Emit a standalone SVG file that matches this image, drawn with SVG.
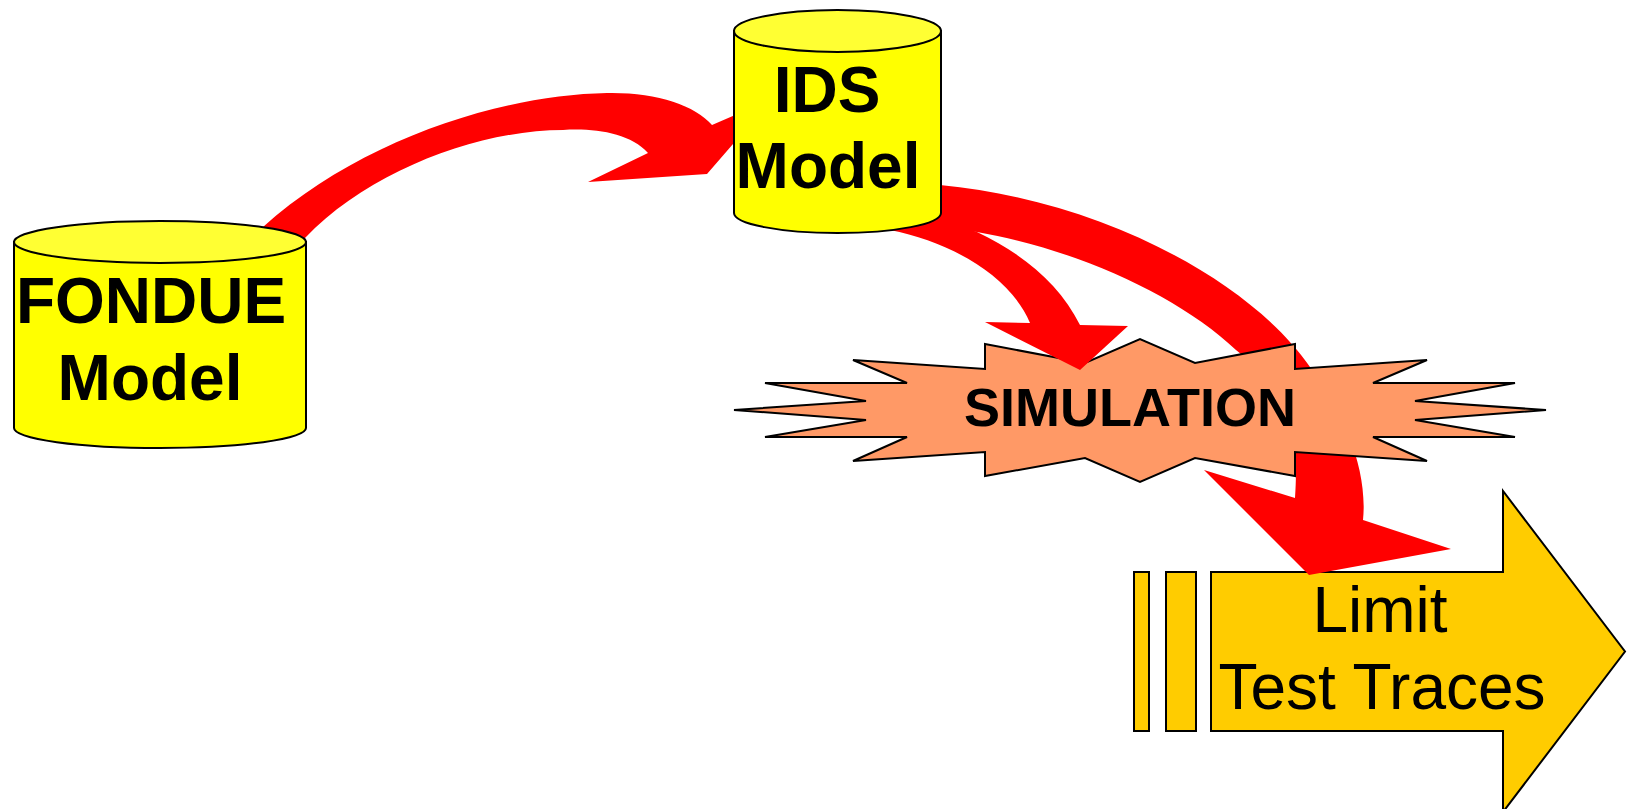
<svg xmlns="http://www.w3.org/2000/svg" width="1632" height="809" viewBox="0 0 1632 809">
<style>
.cyl{fill:#FFFF00;stroke:#000;stroke-width:2}
.cyltop{fill:#FFFF33;stroke:#000;stroke-width:2}
.big{font-family:"Liberation Sans",Arial,sans-serif;font-weight:bold;font-size:64px;fill:#000;text-anchor:middle}
.sim{font-family:"Liberation Sans",Arial,sans-serif;font-weight:bold;font-size:54px;fill:#000;text-anchor:middle}
.lim{font-family:"Liberation Sans",Arial,sans-serif;font-size:64px;fill:#000;text-anchor:middle}
.red{fill:#FF0000;stroke:none}
.arrowbox{fill:#FFCC00;stroke:#000;stroke-width:2}
</style>
<rect width="1632" height="809" fill="#fff"/>

<g id="limit-test-traces">
  <rect class="arrowbox" x="1134" y="572" width="15" height="159"/>
  <rect class="arrowbox" x="1166" y="572" width="30" height="159"/>
  <polygon class="arrowbox" points="1211,572 1503,572 1503,491 1625,651.5 1503,812 1503,731 1211,731"/>
  <text class="lim" x="1380" y="632">Limit</text>
  <text class="lim" x="1382" y="709">Test Traces</text>
</g>

<g id="connectors-under">
  <path id="ids-to-limit" class="red" d="M 900,182 L 940,185 C 1100,200 1250,280 1310,367 C 1345,415 1368,470 1363,520 L 1451,549 L 1309,575 L 1204,470 L 1295,498 C 1300,425 1285,390 1236,350 C 1180,297 1080,250 977,232 L 900,222 Z"/>
</g>

<g id="simulation">
  <polygon fill="#FF9966" stroke="#000" stroke-width="2" stroke-linejoin="miter" points="985,344 1085,363 1140,339 1195,363 1295,344 1295,369 1427,360 1373,383 1515,383 1415,401 1546,410 1415,420 1515,437 1373,437 1427,461 1295,452 1295,476 1195,458 1140,482 1085,458 985,476 985,452 853,461 907,437 765,437 866,420 734,410 866,401 765,383 907,383 853,360 985,369"/>
  <text class="sim" x="1130" y="426">SIMULATION</text>
</g>

<g id="connectors">
  <path id="fondue-to-ids" class="red" d="M 250,240 L 263,227 C 360,140 500,95 607,93 C 655,92 695,105 712,125 L 772,99 L 707,174 L 588,182 L 648,153 C 630,133 595,128 563,130 C 480,130 370,170 305,238 L 290,250 Z"/>
  <path id="ids-to-simulation" class="red" d="M 860,215 L 890,230 C 950,242 1010,275 1030,323 L 985,322 L 1080,370 L 1128,326 L 1080,325 C 1060,285 1025,255 977,232 L 930,215 Z"/>
</g>

<g id="fondue-model">
  <path class="cyl" d="M 14,242 L 14,428 A 146,20 0 0 0 306,428 L 306,242 Z"/>
  <ellipse class="cyltop" cx="160" cy="242" rx="146" ry="21"/>
  <text class="big" x="151" y="323">FONDUE</text>
  <text class="big" x="150" y="400">Model</text>
</g>

<g id="ids-model">
  <path class="cyl" d="M 734,31 L 734,213 A 103.5,20 0 0 0 941,213 L 941,31 Z"/>
  <ellipse class="cyltop" cx="837.5" cy="31" rx="103.5" ry="21"/>
  <text class="big" x="827" y="112">IDS</text>
  <text class="big" x="828" y="188">Model</text>
</g>
</svg>
